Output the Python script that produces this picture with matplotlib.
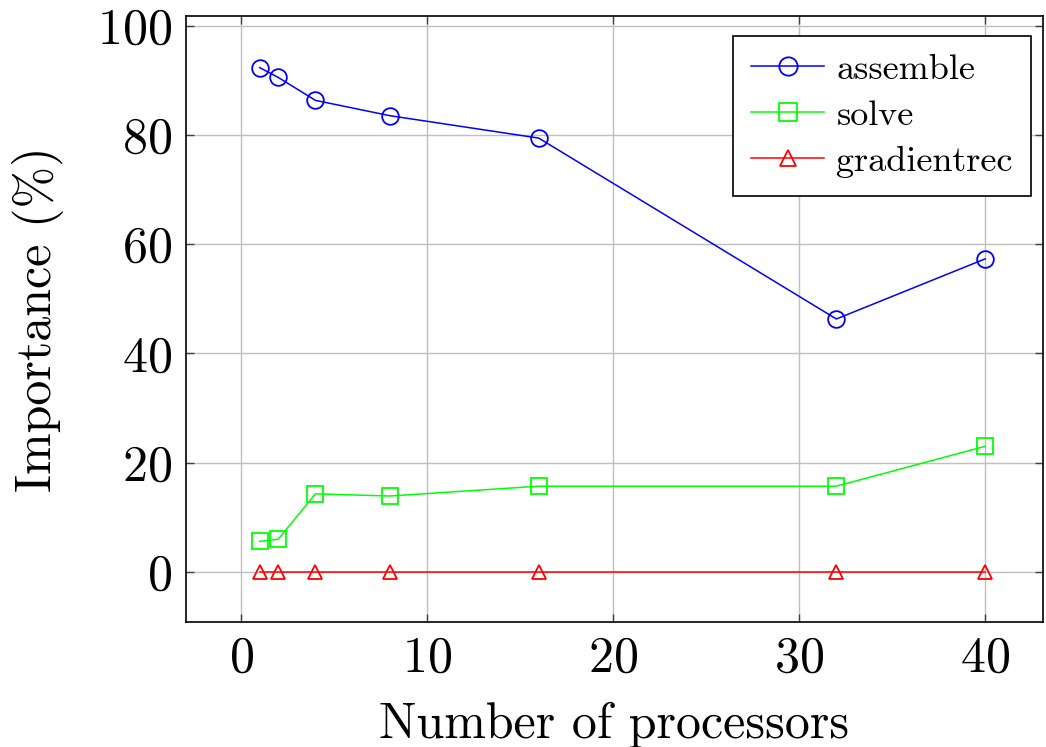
import matplotlib
matplotlib.use('Agg')
import matplotlib.pyplot as plt

plt.rcParams['font.family'] = ['cmr10', 'DejaVu Serif']
plt.rcParams['mathtext.fontset'] = 'cm'
plt.rcParams['axes.formatter.use_mathtext'] = True

# data
processors = [1, 2, 4, 8, 16, 32, 40]
assemble = [92.3, 90.5, 86.3, 83.5, 79.4, 46.3, 57.3]
solve = [5.6, 6.0, 14.3, 13.9, 15.7, 15.7, 23.0]
gradientrec = [0, 0, 0, 0, 0, 0, 0]

fig = plt.figure(figsize=(10.46, 7.47), dpi=100)
ax = fig.add_axes([0.178, 0.167, 0.819, 0.812])

ax.plot(processors, assemble, color='blue', lw=1.1, marker='o', ms=12,
        mfc='none', mec='blue', mew=1.3, label='assemble')
ax.plot(processors, solve, color='#00ff00', lw=1.1, marker='s', ms=12,
        mfc='none', mec='#00ff00', mew=1.3, label='solve')
ax.plot(processors, gradientrec, color='red', lw=1.1, marker='^', ms=10,
        mfc='none', mec='red', mew=1.3, label='gradientrec')

ax.set_xlim(-2.95, 43.1)
ax.set_ylim(-9.2, 101.8)
ax.set_xticks([0, 10, 20, 30, 40])
ax.set_yticks([0, 20, 40, 60, 80, 100])
ax.grid(True, color='#bfbfbf', lw=1.0)
ax.set_axisbelow(True)

ax.tick_params(direction='in', length=6, width=1, color='#404040',
               labelsize=36, top=True, right=True, pad=10)
for s in ax.spines.values():
    s.set_linewidth(1.2)

ax.set_xlabel('Number of processors', fontsize=36, labelpad=14)
ax.set_ylabel('Importance (%)', fontsize=36, labelpad=24)

leg = ax.legend(loc='upper right', fontsize=26, frameon=True, fancybox=False,
                edgecolor='black', framealpha=1, handlelength=2.0,
                bbox_to_anchor=(0.986, 0.967), borderaxespad=0.0,
                labelspacing=0.38, borderpad=0.5, handletextpad=0.35,
                markerscale=1.1)
leg.get_frame().set_linewidth(1.2)

plt.savefig('out.png', dpi=100)
